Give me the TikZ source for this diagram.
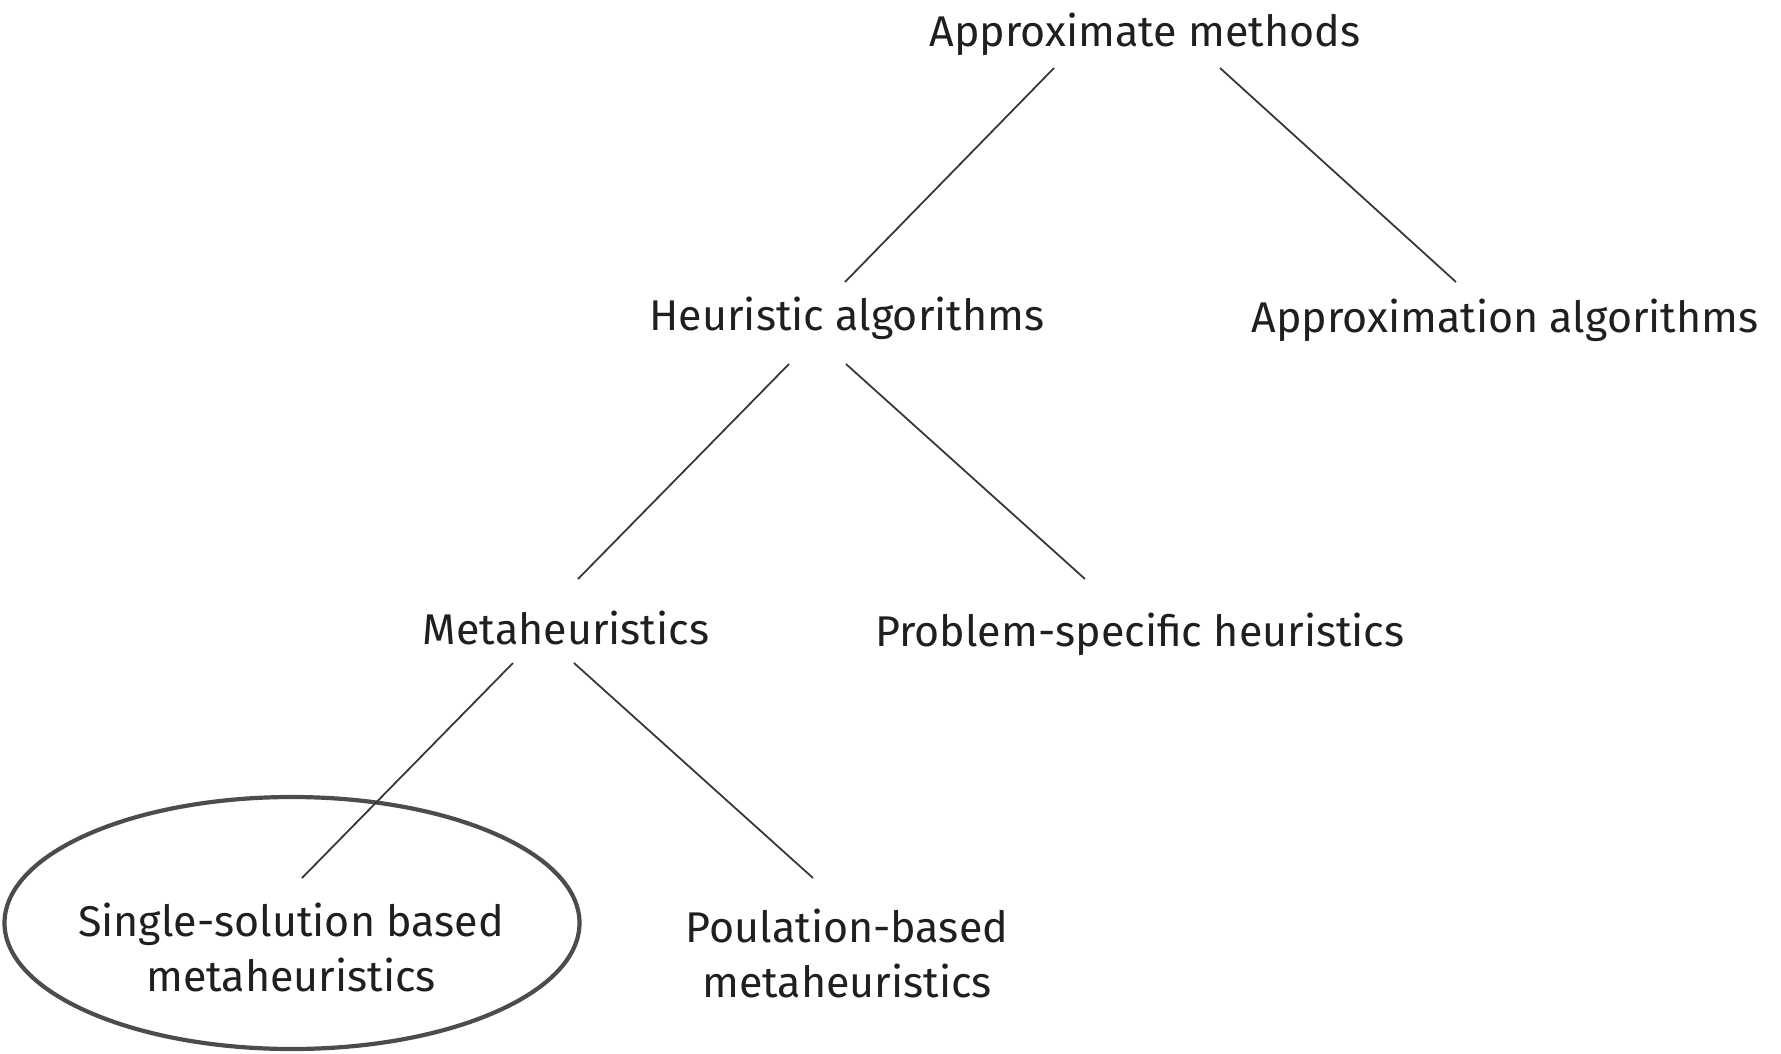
\documentclass[tikz,border=0pt]{standalone}
\usepackage{fontspec}
\setmainfont{Fira Sans}
\usetikzlibrary{shapes.geometric}
\begin{document}
\begin{tikzpicture}[x=1pt,y=1pt,
  lbl/.style={inner sep=0pt, text=black!88, font=\fontsize{43}{55}\selectfont, align=center},
  edge/.style={draw=black!78, line width=1.8pt},
  ring/.style={draw=black!70, line width=4.2pt, ellipse, minimum width=575pt, minimum height=252pt, inner sep=0pt}]
\useasboundingbox (0,0) rectangle (1781,-1053);
\node[lbl] (am) at (1145,-34) {Approximate methods};
\node[lbl] (ha) at (847,-318) {Heuristic algorithms};
\node[lbl] (aa) at (1505,-320) {Approximation algorithms};
\node[lbl] (mh) at (566,-628) {Metaheuristics};
\node[lbl] (ps) at (1140,-634) {Problem-specific heuristics};
\node[lbl] (ss) at (291,-947) {Single-solution based\\metaheuristics};
\node[lbl] (pb) at (847,-953) {Poulation-based\\metaheuristics};
\node[ring] (ov) at (292,-923) {};
\draw[edge] ([shift={(-91,-34)}]am.center) -- ([shift={(-2,36)}]ha.center);
\draw[edge] ([shift={(75,-34)}]am.center) -- ([shift={(-49,38)}]aa.center);
\draw[edge] ([shift={(-58,-46)}]ha.center) -- ([shift={(12,49)}]mh.center);
\draw[edge] ([shift={(-1,-46)}]ha.center) -- ([shift={(-55,55)}]ps.center);
\draw[edge] ([shift={(-53,-35)}]mh.center) -- ([shift={(11,69)}]ss.center);
\draw[edge] ([shift={(8,-35)}]mh.center) -- ([shift={(-34,75)}]pb.center);
\end{tikzpicture}
\end{document}
